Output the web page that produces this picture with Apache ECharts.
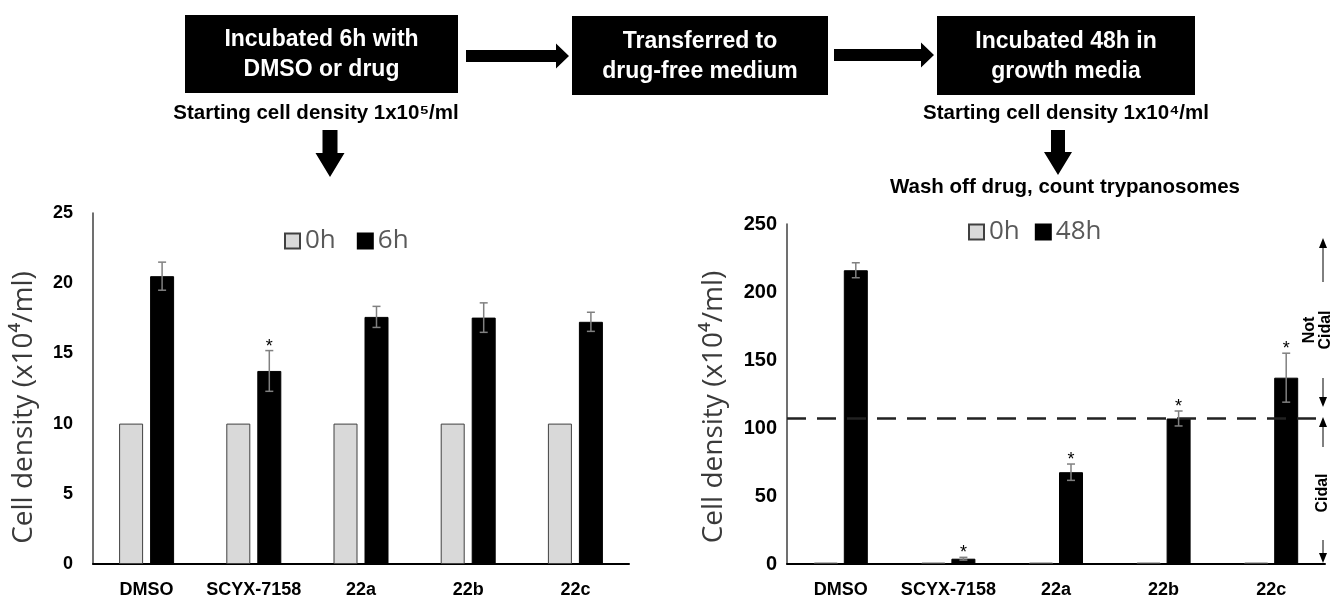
<!DOCTYPE html>
<html>
<head>
<meta charset="utf-8">
<script src="https://cdn.jsdelivr.net/npm/echarts@6/dist/echarts.min.js"></script>
<style>
html,body{margin:0;padding:0;background:#fff;}
#c{width:1342px;height:601px;}
</style>
</head>
<body>
<div id="c"></div>
<script>
// ---- data ----
const categories = ['DMSO', 'SCYX-7158', '22a', '22b', '22c'];
const left0h = [10, 10, 10, 10, 10];
const left6h = [20.5, 13.75, 17.6, 17.55, 17.25];
const left6hErr = [1.0, 1.45, 0.75, 1.05, 0.68];
const left6hSig = [0, 1, 0, 0, 0];
const right0h = [1, 1, 1, 1, 1];
const right48h = [216, 3.9, 67.5, 107, 137];
const right48hErr = [5.5, 1.0, 6.0, 5.5, 18];
const right48hSig = [0, 1, 1, 1, 1];
const threshold = 107.5;
const leftTicks = {min: 0, max: 25, interval: 5};
const rightTicks = {min: 0, max: 250, interval: 50};
const yTitle = 'Cell density (x10\u2074/ml)';

// ---- styles ----
const BAR_W = 24;
const GAP_L = 7, GAP_R = 6;
const bold = 'Liberation Sans';
const soft = 'Open Sans';

function errRenderer(offset) {
  return function (params, api) {
    const i = api.value(0), v = api.value(1), e = api.value(2), s = api.value(3);
    const top = api.coord([i, v + e]);
    const bot = api.coord([i, v - e]);
    const x = top[0] + offset;
    const cap = 4;
    const st = {stroke: '#808080', lineWidth: 1.5};
    const children = [
      {type: 'line', shape: {x1: x, y1: top[1], x2: x, y2: bot[1]}, style: st},
      {type: 'line', shape: {x1: x - cap, y1: top[1], x2: x + cap, y2: top[1]}, style: st},
      {type: 'line', shape: {x1: x - cap, y1: bot[1], x2: x + cap, y2: bot[1]}, style: st}
    ];
    if (s) {
      children.push({type: 'text', x: x, y: top[1] - 4, style: {text: '*', fill: '#000', font: '18px Liberation Sans', align: 'center', verticalAlign: 'middle'}});
    }
    return {type: 'group', children: children};
  };
}

function hArrow(x0, xh, xt, y, hs, hh) {
  return {type: 'polygon', shape: {points: [[x0, y - hs], [xh, y - hs], [xh, y - hh], [xt, y], [xh, y + hh], [xh, y + hs], [x0, y + hs]]}, style: {fill: '#000'}};
}
function vArrow(x, y0, yh, yt, hs, hh) {
  return {type: 'polygon', shape: {points: [[x - hs, y0], [x + hs, y0], [x + hs, yh], [x + hh, yh], [x, yt], [x - hh, yh], [x - hs, yh]]}, style: {fill: '#000'}};
}
function box(x, y, w, h, txt) {
  return [
    {type: 'rect', shape: {x: x, y: y, width: w, height: h}, style: {fill: '#000'}},
    {type: 'text', x: x + w / 2, y: y + h / 2 + 1, style: {text: txt, fill: '#fff', font: 'bold 23px Liberation Sans', align: 'center', verticalAlign: 'middle', lineHeight: 30}}
  ];
}
function label(x, y, txt, size) {
  return {type: 'text', x: x, y: y, style: {text: txt, fill: '#000', font: 'bold ' + size + 'px Liberation Sans', align: 'center', verticalAlign: 'middle'}};
}
function thinLine(x, y1, y2) {
  return {type: 'line', shape: {x1: x, y1: y1, x2: x, y2: y2}, style: {stroke: '#000', lineWidth: 1}};
}
function tri(x, base, tip) {
  return {type: 'polygon', shape: {points: [[x - 4, base], [x + 4, base], [x, tip]]}, style: {fill: '#000'}};
}

const AX = 1323;
const graphics = [].concat(
  box(185, 15, 273, 78, 'Incubated 6h with\nDMSO or drug'),
  box(572, 16, 256, 79, 'Transferred to\ndrug-free medium'),
  box(937, 16, 258, 79, 'Incubated 48h in\ngrowth media'),
  [
    hArrow(466, 556, 569, 56, 6, 12.5),
    hArrow(834, 921, 934, 55, 6, 12.5),
    vArrow(330, 130, 153, 177, 7.5, 14.5),
    vArrow(1058, 130, 152, 175, 7, 14),
    label(316, 113, 'Starting cell density 1x10\u2075/ml', 20.5),
    label(1066, 113, 'Starting cell density 1x10\u2074/ml', 20.5),
    label(1065, 187, 'Wash off drug, count trypanosomes', 20.5),
    thinLine(AX, 247, 282), tri(AX, 248, 238),
    thinLine(AX, 378, 398), tri(AX, 397, 407),
    thinLine(AX, 426, 447), tri(AX, 427, 417),
    thinLine(AX, 540, 554), tri(AX, 553, 563),
    {type: 'text', x: 1318, y: 330, rotation: Math.PI / 2, style: {text: 'Not\nCidal', fill: '#000', font: 'bold 16px Liberation Sans', align: 'center', verticalAlign: 'middle', lineHeight: 16}},
    {type: 'text', x: 1323, y: 493, rotation: Math.PI / 2, style: {text: 'Cidal', fill: '#000', font: 'bold 16px Liberation Sans', align: 'center', verticalAlign: 'middle'}}
  ]
);

function xAx(idx, size) {
  return {
    type: 'category', gridIndex: idx, data: categories,
    axisLine: {lineStyle: {color: '#000', width: 2}},
    axisTick: {show: false},
    axisLabel: {interval: 0, fontFamily: bold, fontWeight: 'bold', fontSize: size, color: '#000', margin: 17}
  };
}
function yAx(idx, ticks, size, margin, gap, shift) {
  return {
    type: 'value', gridIndex: idx, min: ticks.min, max: ticks.max, interval: ticks.interval,
    axisLine: {show: true, lineStyle: {color: '#404040', width: 1.5}},
    axisTick: {show: false},
    splitLine: {show: false},
    axisLabel: {fontFamily: bold, fontWeight: 'bold', fontSize: size, color: '#000', margin: margin},
    name: yTitle, nameLocation: 'middle', nameGap: gap,
    nameTextStyle: {fontFamily: soft, fontSize: 28, color: '#3a3a3a', padding: [0, shift, 0, 0]}
  };
}
const legendText = {fontFamily: soft, fontSize: 26, color: '#595959'};

const option = {
  animation: false,
  backgroundColor: '#fff',
  grid: [
    {left: 93, right: 713, top: 213, bottom: 37},
    {left: 787, right: 17, top: 224, bottom: 37}
  ],
  xAxis: [xAx(0, 18), xAx(1, 18)],
  yAxis: [yAx(0, leftTicks, 18, 20, 55, 38), yAx(1, rightTicks, 20, 10, 59, 26)],
  legend: [
    {data: ['0h', '6h'], left: 284, top: 228, padding: 0, icon: 'rect', itemWidth: 15, itemHeight: 15, itemGap: 21, textStyle: legendText},
    {data: ['0h', '48h'], left: 968, top: 219, padding: 0, icon: 'rect', itemWidth: 15, itemHeight: 15, itemGap: 15, textStyle: legendText}
  ],
  series: [
    {type: 'bar', name: '0h', xAxisIndex: 0, yAxisIndex: 0, data: left0h, barWidth: BAR_W, barGap: (GAP_L / BAR_W * 100) + '%',
      itemStyle: {color: '#d9d9d9', borderColor: '#404040', borderWidth: 1}},
    {type: 'bar', name: '6h', xAxisIndex: 0, yAxisIndex: 0, data: left6h, barWidth: BAR_W,
      itemStyle: {color: '#000', borderColor: '#000', borderWidth: 1}},
    {type: 'custom', name: 'err6h', xAxisIndex: 0, yAxisIndex: 0, z: 10,
      renderItem: errRenderer((BAR_W + GAP_L) / 2),
      data: left6h.map((v, i) => [i, v, left6hErr[i], left6hSig[i]])},
    {type: 'bar', name: '0h', xAxisIndex: 1, yAxisIndex: 1, data: right0h, barWidth: BAR_W, barGap: (GAP_R / BAR_W * 100) + '%',
      itemStyle: {color: '#d9d9d9', borderColor: '#404040', borderWidth: 1}},
    {type: 'bar', name: '48h', xAxisIndex: 1, yAxisIndex: 1, data: right48h, barWidth: BAR_W,
      itemStyle: {color: '#000', borderColor: '#000', borderWidth: 1},
      markLine: {silent: true, symbol: 'none', label: {show: false},
        lineStyle: {color: '#222', width: 2.5, type: [19, 11]},
        data: [{yAxis: threshold}]}},
    {type: 'custom', name: 'err48h', xAxisIndex: 1, yAxisIndex: 1, z: 10,
      renderItem: errRenderer((BAR_W + GAP_R) / 2),
      data: right48h.map((v, i) => [i, v, right48hErr[i], right48hSig[i]])}
  ],
  graphic: {elements: graphics}
};

const chart = echarts.init(document.getElementById('c'), null, {renderer: 'canvas'});
chart.setOption(option);
</script>
</body>
</html>
